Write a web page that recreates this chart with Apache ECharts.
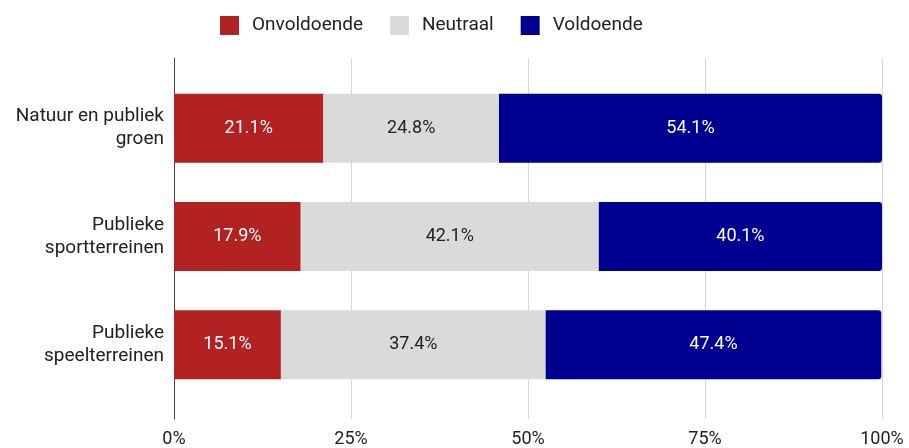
<!DOCTYPE html>
<html>
<head>
<meta charset="utf-8">
<script src="https://cdn.jsdelivr.net/npm/echarts@6/dist/echarts.min.js"></script>
<style>
  html, body { margin: 0; padding: 0; background: #fff; }
  #chart { width: 909px; height: 448px; }
</style>
</head>
<body>
<div id="chart"></div>
<script>
// categorieën en waarden (percentages)
const categories = ["Natuur en publiek\ngroen", "Publieke\nsportterreinen", "Publieke\nspeelterreinen"];
const onvoldoende = [21.1, 17.9, 15.1];
const neutraal = [24.8, 42.1, 37.4];
const voldoende = [54.1, 40.1, 47.4];
const xTicks = [0, 25, 50, 75, 100];

const font = "Roboto, 'Liberation Sans', Arial, sans-serif";

function barLabel(color) {
  return {
    show: true,
    position: "inside",
    color: color,
    fontSize: 18,
    fontFamily: font,
    formatter: (p) => p.value.toFixed(1) + "%",
  };
}

const chart = echarts.init(document.getElementById("chart"));
chart.setOption({
  animation: false,
  legend: {
    left: 220,
    top: 16,
    padding: 0,
    itemWidth: 19,
    itemHeight: 19,
    itemGap: 27,
    icon: "rect",
    textStyle: { color: "#222", fontSize: 19, fontFamily: font, padding: [0, 0, 0, 8] },
    data: ["Onvoldoende", "Neutraal", "Voldoende"],
  },
  grid: [
    // raster + as-labels
    { left: 174, right: 27, top: 58, bottom: 28 },
    // balken
    { left: 174, right: 27, top: 74, bottom: 49 },
  ],
  xAxis: [
    {
      gridIndex: 0,
      type: "value",
      min: xTicks[0],
      max: xTicks[xTicks.length - 1],
      interval: 25,
      axisLine: { show: false },
      axisTick: { show: false },
      axisLabel: {
        margin: 11,
        color: "#222",
        fontSize: 18,
        fontFamily: font,
        formatter: "{value}%",
      },
      splitLine: { show: true, lineStyle: { color: "#d6d6d6", width: 1 } },
    },
    {
      gridIndex: 1,
      type: "value",
      min: 0,
      max: 100,
      show: false,
    },
  ],
  yAxis: [
    {
      gridIndex: 0,
      type: "value",
      axisLine: { show: true, onZero: false, lineStyle: { color: "#444", width: 1 } },
      axisTick: { show: false },
      axisLabel: { show: false },
      splitLine: { show: false },
    },
    {
      gridIndex: 1,
      type: "category",
      inverse: true,
      data: categories,
      axisLine: { show: false },
      axisTick: { show: false },
      axisLabel: {
        margin: 10,
        color: "#222",
        fontSize: 19,
        lineHeight: 23,
        align: "right",
        fontFamily: font,
      },
    },
  ],
  series: [
    {
      name: "Onvoldoende",
      type: "bar",
      stack: "totaal",
      xAxisIndex: 1,
      yAxisIndex: 1,
      barWidth: 69,
      data: onvoldoende,
      itemStyle: { color: "#b22222" },
      label: barLabel("#fff"),
    },
    {
      name: "Neutraal",
      type: "bar",
      stack: "totaal",
      xAxisIndex: 1,
      yAxisIndex: 1,
      barWidth: 69,
      data: neutraal,
      itemStyle: { color: "#dadada" },
      label: barLabel("#222"),
    },
    {
      name: "Voldoende",
      type: "bar",
      stack: "totaal",
      xAxisIndex: 1,
      yAxisIndex: 1,
      barWidth: 69,
      data: voldoende,
      itemStyle: { color: "#000090", borderRadius: [0, 3, 3, 0] },
      label: barLabel("#fff"),
    },
  ],
});
</script>
</body>
</html>
